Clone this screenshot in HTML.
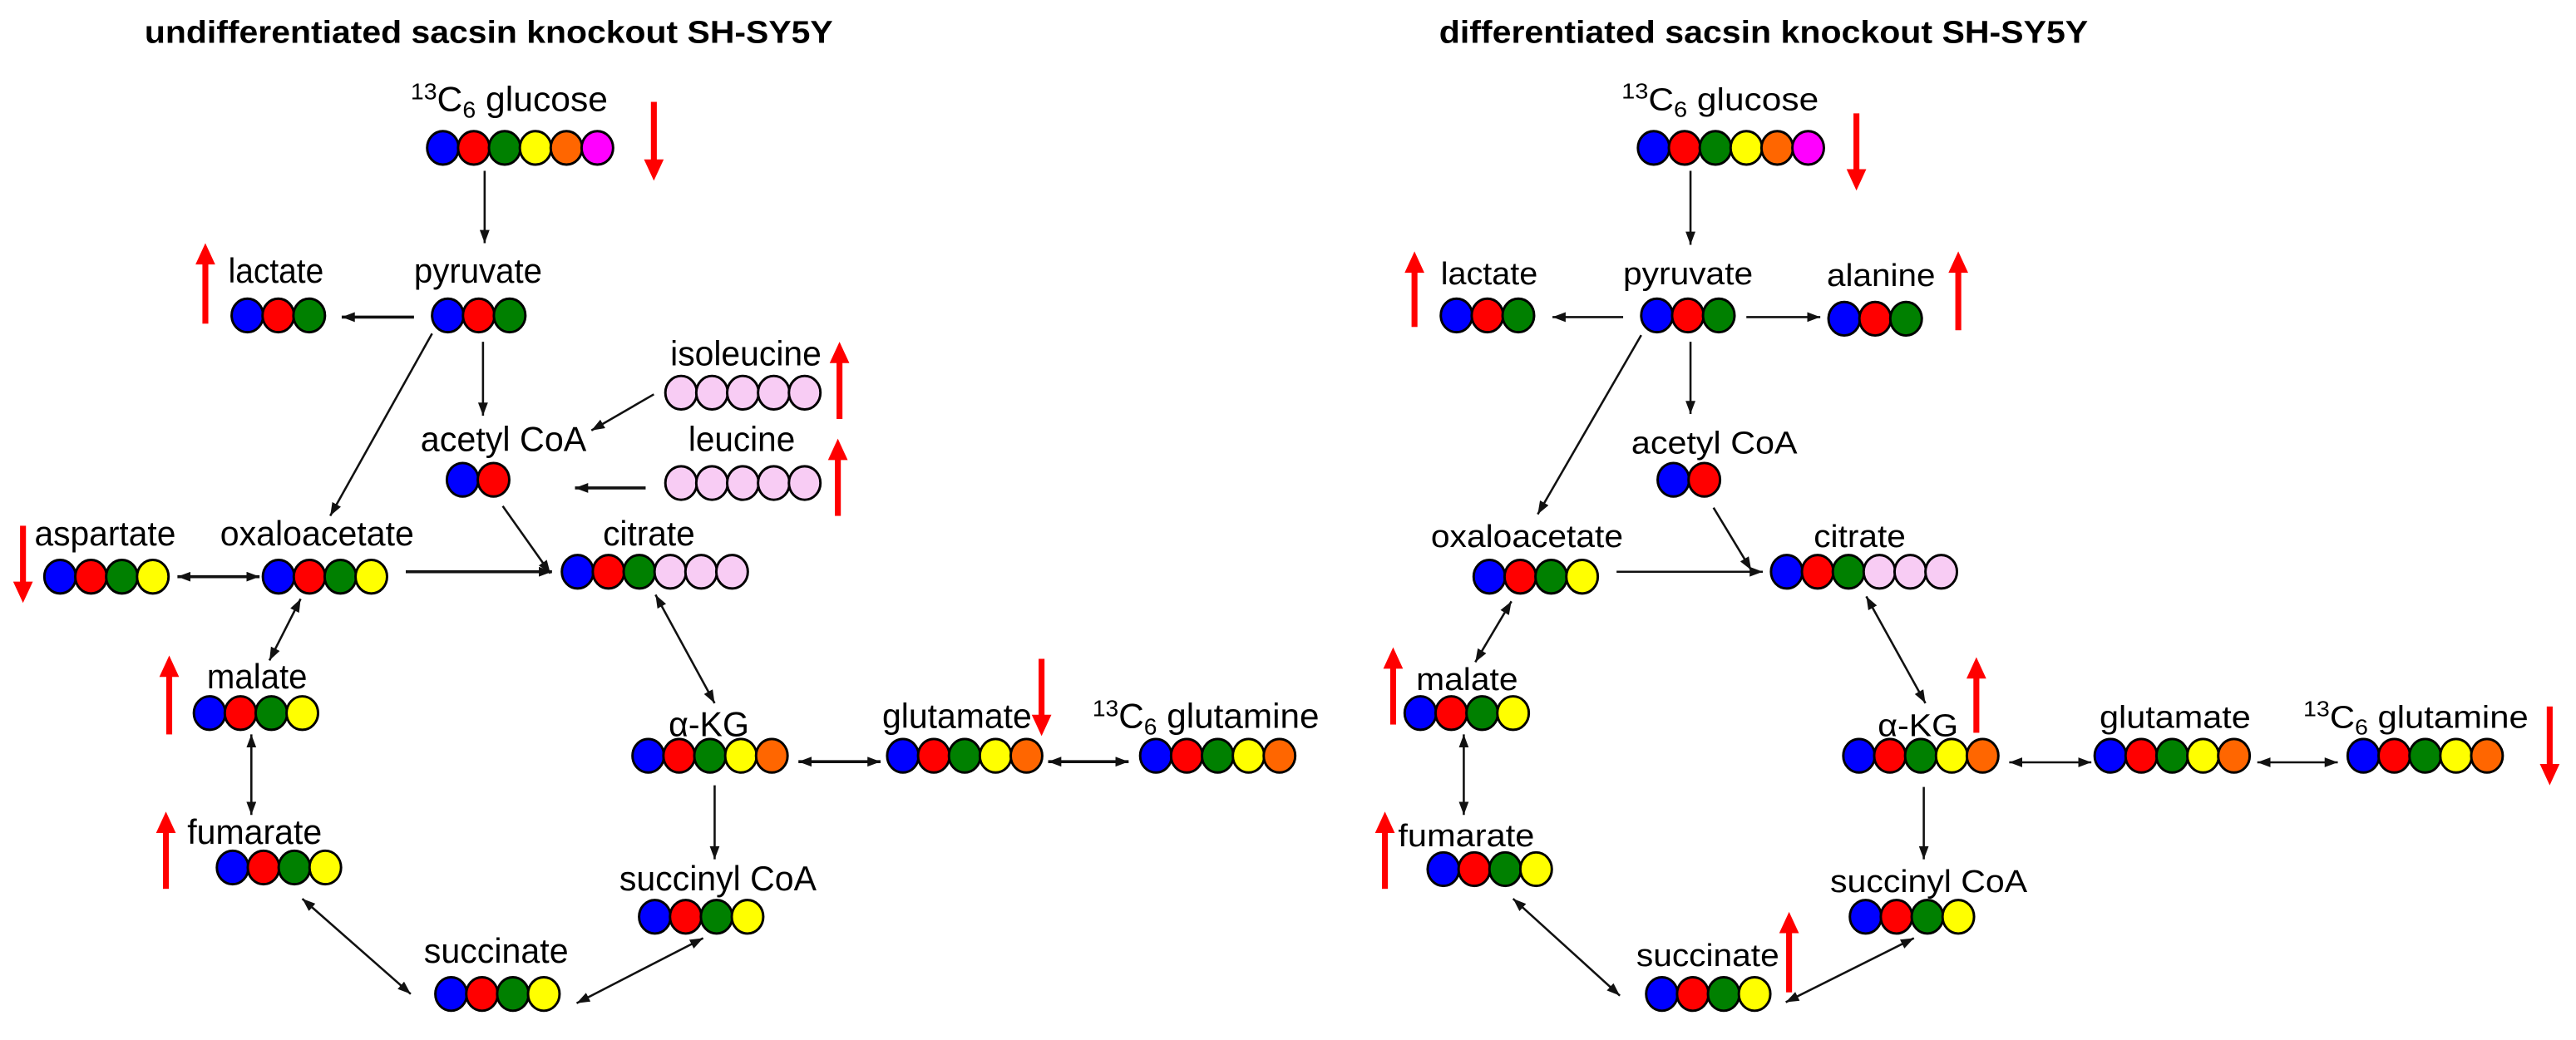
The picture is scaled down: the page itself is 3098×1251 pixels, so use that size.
<!DOCTYPE html>
<html><head><meta charset="utf-8"><style>
html,body{margin:0;padding:0;background:#fff;}
svg{display:block;}
text{font-family:"Liberation Sans",Arial,sans-serif;font-size:19px;fill:#000;}
.L text{font-size:21px;}
.t{font-weight:bold;}
</style></head><body>
<svg width="3098" height="1251" viewBox="0 0 1568 633" preserveAspectRatio="none" xmlns="http://www.w3.org/2000/svg">
<defs>
<marker id="ah" markerUnits="userSpaceOnUse" markerWidth="9" markerHeight="7" refX="8" refY="3" orient="auto-start-reverse"><path d="M0,0 L8,3 L0,6 z" fill="#111"/></marker>
<ellipse id="B" rx="9.6" ry="10.2" fill="#0000ff" stroke="#000" stroke-width="1.5"/>
<ellipse id="R" rx="9.6" ry="10.2" fill="#ff0000" stroke="#000" stroke-width="1.5"/>
<ellipse id="G" rx="9.6" ry="10.2" fill="#008000" stroke="#000" stroke-width="1.5"/>
<ellipse id="Y" rx="9.6" ry="10.2" fill="#ffff00" stroke="#000" stroke-width="1.5"/>
<ellipse id="O" rx="9.6" ry="10.2" fill="#ff6600" stroke="#000" stroke-width="1.5"/>
<ellipse id="M" rx="9.6" ry="10.2" fill="#ff00ff" stroke="#000" stroke-width="1.5"/>
<ellipse id="P" rx="9.6" ry="10.2" fill="#f8ccf4" stroke="#000" stroke-width="1.5"/>
<g id="r2"><use href="#B" x="9.6"/><use href="#R" x="28.4"/></g>
<g id="r3"><use href="#B" x="9.6"/><use href="#R" x="28.4"/><use href="#G" x="47.2"/></g>
<g id="r4"><use href="#B" x="9.6"/><use href="#R" x="28.4"/><use href="#G" x="47.2"/><use href="#Y" x="66"/></g>
<g id="r5"><use href="#B" x="9.6"/><use href="#R" x="28.4"/><use href="#G" x="47.2"/><use href="#Y" x="66"/><use href="#O" x="84.8"/></g>
<g id="r6"><use href="#B" x="9.6"/><use href="#R" x="28.4"/><use href="#G" x="47.2"/><use href="#Y" x="66"/><use href="#O" x="84.8"/><use href="#M" x="103.6"/></g>
<g id="rc"><use href="#B" x="9.6"/><use href="#R" x="28.4"/><use href="#G" x="47.2"/><use href="#P" x="66"/><use href="#P" x="84.8"/><use href="#P" x="103.6"/></g>
<g id="rp"><use href="#P" x="9.6"/><use href="#P" x="28.4"/><use href="#P" x="47.2"/><use href="#P" x="66"/><use href="#P" x="84.8"/></g>
</defs>

<!-- LEFT PANEL -->
<text class="t" x="88" y="26" textLength="419" lengthAdjust="spacingAndGlyphs">undifferentiated sacsin knockout SH-SY5Y</text>
<g class="L">
<text x="250" y="67.5" textLength="120" lengthAdjust="spacingAndGlyphs"><tspan font-size="14" dy="-7">13</tspan><tspan dy="7">C</tspan><tspan font-size="14" dy="4">6</tspan><tspan dy="-4"> glucose</tspan></text>
<text x="139" y="172" textLength="58" lengthAdjust="spacingAndGlyphs">lactate</text>
<text x="252" y="172" textLength="78" lengthAdjust="spacingAndGlyphs">pyruvate</text>
<text x="408" y="222.5" textLength="92" lengthAdjust="spacingAndGlyphs">isoleucine</text>
<text x="256" y="274.5" textLength="101" lengthAdjust="spacingAndGlyphs">acetyl CoA</text>
<text x="419" y="274.5" textLength="65" lengthAdjust="spacingAndGlyphs">leucine</text>
<text x="21" y="332" textLength="86" lengthAdjust="spacingAndGlyphs">aspartate</text>
<text x="134" y="332" textLength="118" lengthAdjust="spacingAndGlyphs">oxaloacetate</text>
<text x="367" y="332" textLength="56" lengthAdjust="spacingAndGlyphs">citrate</text>
<text x="126" y="419" textLength="61" lengthAdjust="spacingAndGlyphs">malate</text>
<text x="114" y="513.5" textLength="82" lengthAdjust="spacingAndGlyphs">fumarate</text>
<text x="258" y="586" textLength="88" lengthAdjust="spacingAndGlyphs">succinate</text>
<text x="377" y="542" textLength="120" lengthAdjust="spacingAndGlyphs">succinyl CoA</text>
<text x="407" y="448" textLength="49" lengthAdjust="spacingAndGlyphs">α-KG</text>
<text x="537" y="443" textLength="91" lengthAdjust="spacingAndGlyphs">glutamate</text>
<text x="665" y="443" textLength="138" lengthAdjust="spacingAndGlyphs"><tspan font-size="14" dy="-7">13</tspan><tspan dy="7">C</tspan><tspan font-size="14" dy="4">6</tspan><tspan dy="-4"> glutamine</tspan></text>
</g>

<use href="#r6" x="260" y="90"/>
<use href="#r3" x="141" y="192"/>
<use href="#r3" x="263" y="192"/>
<use href="#rp" x="405" y="239"/>
<use href="#rp" x="405" y="294"/>
<use href="#r2" x="272" y="292"/>
<use href="#r4" x="27" y="351"/>
<use href="#r4" x="160" y="351"/>
<use href="#rc" x="342" y="348"/>
<use href="#r4" x="118" y="434"/>
<use href="#r4" x="132" y="528"/>
<use href="#r4" x="265" y="605"/>
<use href="#r4" x="389" y="558"/>
<use href="#r5" x="385" y="460"/>
<use href="#r5" x="540" y="460"/>
<use href="#r5" x="694" y="460"/>

<g stroke="#111" stroke-width="1.3" fill="none">
<line x1="295" y1="104" x2="295" y2="148" marker-end="url(#ah)"/>
<line x1="252" y1="193" x2="208" y2="193" marker-end="url(#ah)" stroke-width="1.8"/>
<line x1="294" y1="208" x2="294" y2="253" marker-end="url(#ah)"/>
<line x1="263" y1="203" x2="201" y2="314" marker-end="url(#ah)"/>
<line x1="398" y1="240" x2="360" y2="262" marker-end="url(#ah)"/>
<line x1="393" y1="297" x2="350" y2="297" marker-end="url(#ah)" stroke-width="1.8"/>
<line x1="306" y1="308" x2="335" y2="349" marker-end="url(#ah)"/>
<line x1="108" y1="351" x2="158" y2="351" marker-start="url(#ah)" marker-end="url(#ah)" stroke-width="1.8"/>
<line x1="247" y1="348" x2="336" y2="348" marker-end="url(#ah)" stroke-width="1.8"/>
<line x1="399" y1="362" x2="435" y2="428" marker-start="url(#ah)" marker-end="url(#ah)"/>
<line x1="183" y1="364.5" x2="164" y2="402" marker-start="url(#ah)" marker-end="url(#ah)"/>
<line x1="153" y1="447" x2="153" y2="496" marker-start="url(#ah)" marker-end="url(#ah)"/>
<line x1="184" y1="547" x2="250" y2="605" marker-start="url(#ah)" marker-end="url(#ah)"/>
<line x1="351" y1="610.6" x2="428" y2="571" marker-start="url(#ah)" marker-end="url(#ah)"/>
<line x1="435" y1="478" x2="435" y2="523" marker-end="url(#ah)"/>
<line x1="486" y1="463.6" x2="536" y2="463.6" marker-start="url(#ah)" marker-end="url(#ah)" stroke-width="1.8"/>
<line x1="638" y1="463.6" x2="687" y2="463.6" marker-start="url(#ah)" marker-end="url(#ah)" stroke-width="1.8"/>
</g>

<g fill="#ff0000">
<rect x="396.2" y="62" width="3.6" height="36"/><polygon points="392,97 404,97 398,110"/>
<rect x="12.2" y="320" width="3.6" height="35"/><polygon points="8,354 20,354 14,367"/>
<rect x="632.2" y="401" width="3.6" height="35"/><polygon points="628,435 640,435 634,448"/>
<rect x="123.2" y="160" width="3.6" height="37"/><polygon points="119,161 131,161 125,148"/>
<rect x="509.2" y="220" width="3.6" height="35"/><polygon points="505,221 517,221 511,208"/>
<rect x="508.2" y="279" width="3.6" height="35"/><polygon points="504,280 516,280 510,267"/>
<rect x="101.2" y="411" width="3.6" height="36"/><polygon points="97,412 109,412 103,399"/>
<rect x="99.2" y="506" width="3.6" height="35"/><polygon points="95,507 107,507 101,494"/>
</g>

<!-- RIGHT PANEL -->
<text class="t" x="876" y="26" textLength="395" lengthAdjust="spacingAndGlyphs">differentiated sacsin knockout SH-SY5Y</text>
<text x="987" y="67" textLength="120" lengthAdjust="spacingAndGlyphs"><tspan font-size="13" dy="-7">13</tspan><tspan dy="7">C</tspan><tspan font-size="13" dy="4">6</tspan><tspan dy="-4"> glucose</tspan></text>
<text x="877" y="173" textLength="59" lengthAdjust="spacingAndGlyphs">lactate</text>
<text x="988" y="173" textLength="79" lengthAdjust="spacingAndGlyphs">pyruvate</text>
<text x="1112" y="174" textLength="66" lengthAdjust="spacingAndGlyphs">alanine</text>
<text x="993" y="276" textLength="101" lengthAdjust="spacingAndGlyphs">acetyl CoA</text>
<text x="871" y="333" textLength="117" lengthAdjust="spacingAndGlyphs">oxaloacetate</text>
<text x="1104" y="333" textLength="56" lengthAdjust="spacingAndGlyphs">citrate</text>
<text x="862" y="420" textLength="62" lengthAdjust="spacingAndGlyphs">malate</text>
<text x="851" y="515" textLength="83" lengthAdjust="spacingAndGlyphs">fumarate</text>
<text x="996" y="588" textLength="87" lengthAdjust="spacingAndGlyphs">succinate</text>
<text x="1114" y="543" textLength="120" lengthAdjust="spacingAndGlyphs">succinyl CoA</text>
<text x="1143" y="448" textLength="49" lengthAdjust="spacingAndGlyphs">α-KG</text>
<text x="1278" y="443" textLength="92" lengthAdjust="spacingAndGlyphs">glutamate</text>
<text x="1402" y="443" textLength="137" lengthAdjust="spacingAndGlyphs"><tspan font-size="13" dy="-7">13</tspan><tspan dy="7">C</tspan><tspan font-size="13" dy="4">6</tspan><tspan dy="-4"> glutamine</tspan></text>

<use href="#r6" x="997" y="90"/>
<use href="#r3" x="877" y="192"/>
<use href="#r3" x="999" y="192"/>
<use href="#r3" x="1113" y="194"/>
<use href="#r2" x="1009" y="292"/>
<use href="#r4" x="897" y="351"/>
<use href="#rc" x="1078" y="348"/>
<use href="#r4" x="855" y="434"/>
<use href="#r4" x="869" y="529"/>
<use href="#r4" x="1002" y="605"/>
<use href="#r4" x="1126" y="558"/>
<use href="#r5" x="1122" y="460"/>
<use href="#r5" x="1275" y="460"/>
<use href="#r5" x="1429" y="460"/>

<g stroke="#111" stroke-width="1.3" fill="none">
<line x1="1029" y1="104" x2="1029" y2="149" marker-end="url(#ah)"/>
<line x1="988" y1="193" x2="945" y2="193" marker-end="url(#ah)"/>
<line x1="1063" y1="193" x2="1108" y2="193" marker-end="url(#ah)"/>
<line x1="1029" y1="208" x2="1029" y2="252" marker-end="url(#ah)"/>
<line x1="999" y1="204" x2="936" y2="313" marker-end="url(#ah)"/>
<line x1="1043" y1="309" x2="1066" y2="347" marker-end="url(#ah)"/>
<line x1="984" y1="348" x2="1073" y2="348" marker-end="url(#ah)"/>
<line x1="1136" y1="363" x2="1172" y2="428" marker-start="url(#ah)" marker-end="url(#ah)"/>
<line x1="920" y1="366" x2="898" y2="403" marker-start="url(#ah)" marker-end="url(#ah)"/>
<line x1="891" y1="447" x2="891" y2="496" marker-start="url(#ah)" marker-end="url(#ah)"/>
<line x1="921" y1="547" x2="986" y2="606" marker-start="url(#ah)" marker-end="url(#ah)"/>
<line x1="1087" y1="610" x2="1165" y2="571" marker-start="url(#ah)" marker-end="url(#ah)"/>
<line x1="1171" y1="479" x2="1171" y2="523" marker-end="url(#ah)"/>
<line x1="1223" y1="464" x2="1273" y2="464" marker-start="url(#ah)" marker-end="url(#ah)"/>
<line x1="1374" y1="464" x2="1423" y2="464" marker-start="url(#ah)" marker-end="url(#ah)"/>
</g>

<g fill="#ff0000">
<rect x="1128.2" y="69" width="3.6" height="35"/><polygon points="1124,103 1136,103 1130,116"/>
<rect x="1550.2" y="430" width="3.6" height="36"/><polygon points="1546,465 1558,465 1552,478"/>
<rect x="859.2" y="165" width="3.6" height="34"/><polygon points="855,166 867,166 861,153"/>
<rect x="1190.2" y="165" width="3.6" height="36"/><polygon points="1186,166 1198,166 1192,153"/>
<rect x="846.2" y="406" width="3.6" height="35"/><polygon points="842,407 854,407 848,394"/>
<rect x="841.2" y="506" width="3.6" height="35"/><polygon points="837,507 849,507 843,494"/>
<rect x="1087.2" y="567" width="3.6" height="37"/><polygon points="1083,568 1095,568 1089,555"/>
<rect x="1201.2" y="412" width="3.6" height="34"/><polygon points="1197,413 1209,413 1203,400"/>
</g>
</svg>
</body></html>
